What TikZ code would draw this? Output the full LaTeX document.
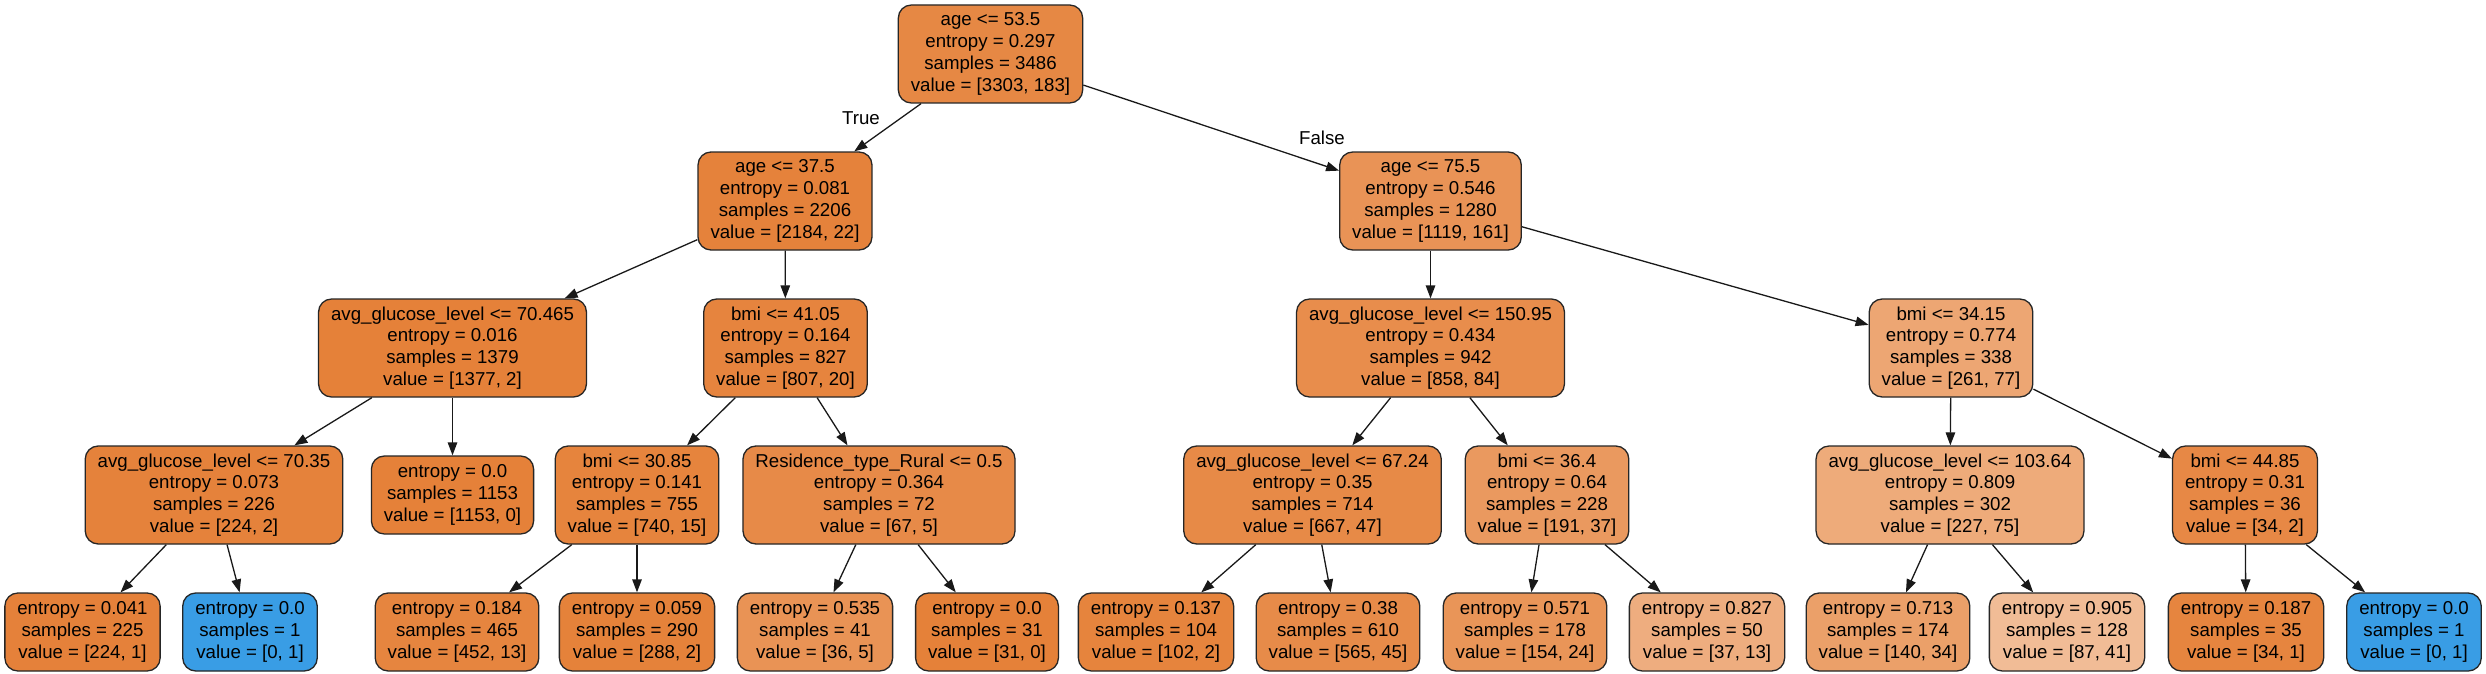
\documentclass[tikz,border=0pt]{standalone}
\usepackage{fontspec}
\setmainfont{Liberation Sans}
\usetikzlibrary{arrows.meta}
\definecolor{cz}{RGB}{229,129,57}
\definecolor{co}{RGB}{57,157,229}
\newcommand{\tfont}{\fontsize{18.67}{21.8}\selectfont}
\tikzset{
  tnode/.style={draw=black!85, rounded corners=13pt, line width=1.3pt, inner xsep=12.5pt, inner ysep=0pt, align=center, font=\tfont, execute at begin node={\rule{0pt}{17.5pt}}},
  boxfour/.style={tnode, minimum height=98pt},
  boxthree/.style={tnode, minimum height=78pt},
  conn/.style={line width=1.3pt, draw=black!90, -{Triangle[length=13pt,width=9.5pt]}},
  elabel/.style={font=\tfont, inner sep=0pt}
}
\begin{document}
\begin{tikzpicture}[x=1pt,y=-1pt]
\fill[white] (0,0) rectangle (2486,674);
\useasboundingbox (0,0) rectangle (2486,674);
% level 0
\node[boxfour, fill=cz!94.5!white] (r) at (990.5,54) {age <= 53.5\\entropy = 0.297\\samples = 3486\\value = [3303, 183]};
% level 1
\node[boxfour, fill=cz!99!white] (a1) at (785,201) {age <= 37.5\\entropy = 0.081\\samples = 2206\\value = [2184, 22]};
\node[boxfour, fill=cz!85.6!white] (a2) at (1430.5,201) {age <= 75.5\\entropy = 0.546\\samples = 1280\\value = [1119, 161]};
% level 2
\node[boxfour, fill=cz!99.9!white] (b1) at (452.5,348) {avg\_glucose\_level <= 70.465\\entropy = 0.016\\samples = 1379\\value = [1377, 2]};
\node[boxfour, fill=cz!97.5!white] (b2) at (785.5,348) {bmi <= 41.05\\entropy = 0.164\\samples = 827\\value = [807, 20]};
\node[boxfour, fill=cz!90.2!white] (b3) at (1430.5,348) {avg\_glucose\_level <= 150.95\\entropy = 0.434\\samples = 942\\value = [858, 84]};
\node[boxfour, fill=cz!70.5!white] (b4) at (1951,348) {bmi <= 34.15\\entropy = 0.774\\samples = 338\\value = [261, 77]};
% level 3
\node[boxfour, fill=cz!99.1!white] (c1) at (214,495) {avg\_glucose\_level <= 70.35\\entropy = 0.073\\samples = 226\\value = [224, 2]};
\node[boxthree, fill=cz] (c2) at (452.5,495) {entropy = 0.0\\samples = 1153\\value = [1153, 0]};
\node[boxfour, fill=cz!98!white] (c3) at (637,495) {bmi <= 30.85\\entropy = 0.141\\samples = 755\\value = [740, 15]};
\node[boxfour, fill=cz!92.5!white] (c4) at (879,495) {Residence\_type\_Rural <= 0.5\\entropy = 0.364\\samples = 72\\value = [67, 5]};
\node[boxfour, fill=cz!93!white] (c5) at (1312.5,495) {avg\_glucose\_level <= 67.24\\entropy = 0.35\\samples = 714\\value = [667, 47]};
\node[boxfour, fill=cz!80.6!white] (c6) at (1547,495) {bmi <= 36.4\\entropy = 0.64\\samples = 228\\value = [191, 37]};
\node[boxfour, fill=cz!67!white] (c7) at (1950,495) {avg\_glucose\_level <= 103.64\\entropy = 0.809\\samples = 302\\value = [227, 75]};
\node[boxfour, fill=cz!94.1!white] (c8) at (2245,495) {bmi <= 44.85\\entropy = 0.31\\samples = 36\\value = [34, 2]};
% level 4
\node[boxthree, fill=cz!99.6!white] (d1) at (82.5,632) {entropy = 0.041\\samples = 225\\value = [224, 1]};
\node[boxthree, fill=co] (d2) at (250,632) {entropy = 0.0\\samples = 1\\value = [0, 1]};
\node[boxthree, fill=cz!97.1!white] (d3) at (457,632) {entropy = 0.184\\samples = 465\\value = [452, 13]};
\node[boxthree, fill=cz!99.3!white] (d4) at (637,632) {entropy = 0.059\\samples = 290\\value = [288, 2]};
\node[boxthree, fill=cz!86.1!white] (d5) at (815,632) {entropy = 0.535\\samples = 41\\value = [36, 5]};
\node[boxthree, fill=cz] (d6) at (987,632) {entropy = 0.0\\samples = 31\\value = [31, 0]};
\node[boxthree, fill=cz!98!white] (d7) at (1156,632) {entropy = 0.137\\samples = 104\\value = [102, 2]};
\node[boxthree, fill=cz!92!white] (d8) at (1338,632) {entropy = 0.38\\samples = 610\\value = [565, 45]};
\node[boxthree, fill=cz!84.4!white] (d9) at (1525,632) {entropy = 0.571\\samples = 178\\value = [154, 24]};
\node[boxthree, fill=cz!64.9!white] (d10) at (1707,632) {entropy = 0.827\\samples = 50\\value = [37, 13]};
\node[boxthree, fill=cz!75.7!white] (d11) at (1888,632) {entropy = 0.713\\samples = 174\\value = [140, 34]};
\node[boxthree, fill=cz!52.9!white] (d12) at (2067,632) {entropy = 0.905\\samples = 128\\value = [87, 41]};
\node[boxthree, fill=cz!97.1!white] (d13) at (2246,632) {entropy = 0.187\\samples = 35\\value = [34, 1]};
\node[boxthree, fill=co] (d14) at (2414,632) {entropy = 0.0\\samples = 1\\value = [0, 1]};
% edges
\draw[conn] (r) -- (a1);
\draw[conn] (r) -- (a2);
\draw[conn] (a1) -- (b1);
\draw[conn] (a1) -- (b2);
\draw[conn] (a2) -- (b3);
\draw[conn] (a2) -- (b4);
\draw[conn] (b1) -- (c1);
\draw[conn] (b1) -- (c2);
\draw[conn] (b2) -- (c3);
\draw[conn] (b2) -- (c4);
\draw[conn] (b3) -- (c5);
\draw[conn] (b3) -- (c6);
\draw[conn] (b4) -- (c7);
\draw[conn] (b4) -- (c8);
\draw[conn] (c1) -- (d1);
\draw[conn] (c1) -- (d2);
\draw[conn] (c3) -- (d3);
\draw[conn] (c3) -- (d4);
\draw[conn] (c4) -- (d5);
\draw[conn] (c4) -- (d6);
\draw[conn] (c5) -- (d7);
\draw[conn] (c5) -- (d8);
\draw[conn] (c6) -- (d9);
\draw[conn] (c6) -- (d10);
\draw[conn] (c7) -- (d11);
\draw[conn] (c7) -- (d12);
\draw[conn] (c8) -- (d13);
\draw[conn] (c8) -- (d14);
% edge labels
\node[elabel] (ltrue) at (861,118) {True};
\node[elabel] (lfalse) at (1322,138) {False};
\end{tikzpicture}
\end{document}
